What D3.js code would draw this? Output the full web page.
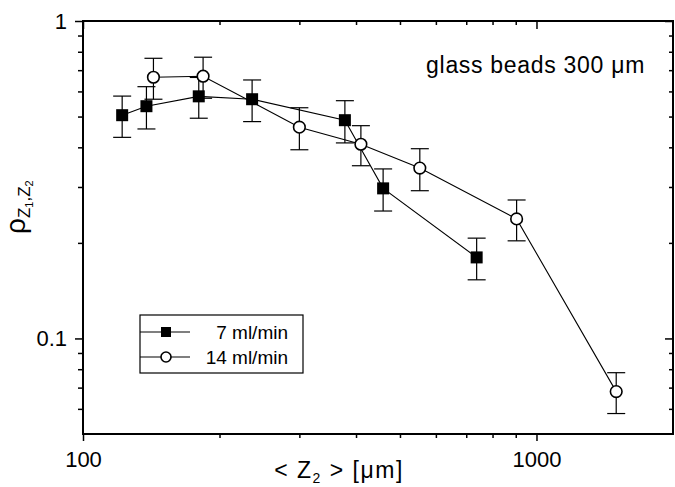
<!DOCTYPE html>
<html>
<head>
<meta charset="utf-8">
<script src="https://cdn.jsdelivr.net/npm/d3@7"></script>
<style>
  body { margin: 0; background: #fff; }
  svg { font-family: "Liberation Sans", Arial, sans-serif; }
  .axis text { font-size: 22px; fill: #000; }
  .axis line { stroke: #000; stroke-width: 1.5; }
</style>
</head>
<body>
<script>
// data
var seriesNames = ["7 ml/min", "14 ml/min"];

var z7 = [122, 138, 180, 236, 378, 459, 738];
var rho7 = [0.505, 0.539, 0.579, 0.567, 0.487, 0.297, 0.180];
var err7 = [0.075, 0.082, 0.085, 0.085, 0.074, 0.045, 0.027];

var z14 = [143, 184, 300, 410, 553, 904, 1499];
var rho14 = [0.665, 0.670, 0.463, 0.409, 0.344, 0.238, 0.068];
var err14 = [0.098, 0.099, 0.070, 0.059, 0.052, 0.035, 0.010];

var xMajor = [100, 1000];
var xMinor = [200, 300, 400, 500, 600, 700, 800, 900];
var yMajor = [0.1, 1];
var yMinor = [0.06, 0.07, 0.08, 0.09, 0.2, 0.3, 0.4, 0.5, 0.6, 0.7, 0.8, 0.9];

var W = 675, H = 487;
var padL = 83, padR = 673, padT = 21, padB = 434;

var svg = d3.select("body").append("svg")
    .attr("width", W)
    .attr("height", H);

var x = d3.scaleLog().domain([100, 2000]).range([padL, padR]);
var y = d3.scaleLog().domain([0.05, 1]).range([padB, padT]);

// axes: major with labels, minor without, mirrored on top / right
function addAxis(axis, tr) {
  var g = svg.append("g").attr("class", "axis").attr("transform", tr).call(axis);
  g.select(".domain").remove();
  return g;
}
addAxis(d3.axisBottom(x).tickValues(xMajor).tickSize(7).tickPadding(10).tickFormat(d3.format("d")), "translate(0," + padB + ")");
addAxis(d3.axisBottom(x).tickValues(xMinor).tickSize(4).tickFormat(""), "translate(0," + padB + ")");
addAxis(d3.axisBottom(x).tickValues(xMajor).tickSize(8).tickFormat(""), "translate(0," + padT + ")");
addAxis(d3.axisBottom(x).tickValues(xMinor).tickSize(4).tickFormat(""), "translate(0," + padT + ")");

addAxis(d3.axisLeft(y).tickValues(yMajor).tickSize(8).tickPadding(8).tickFormat(d3.format("")), "translate(" + padL + ",0)");
addAxis(d3.axisLeft(y).tickValues(yMinor).tickSize(5).tickFormat(""), "translate(" + padL + ",0)");
addAxis(d3.axisLeft(y).tickValues(yMajor).tickSize(8).tickFormat(""), "translate(" + padR + ",0)");
addAxis(d3.axisLeft(y).tickValues(yMinor).tickSize(4).tickFormat(""), "translate(" + padR + ",0)");

// frame
svg.append("rect")
    .attr("x", padL).attr("y", padT)
    .attr("width", padR - padL).attr("height", padB - padT)
    .attr("fill", "none").attr("stroke", "#000").attr("stroke-width", 2);

var pts7 = z7.map(function(d, i) { return {z: d, r: rho7[i], e: err7[i]}; });
var pts14 = z14.map(function(d, i) { return {z: d, r: rho14[i], e: err14[i]}; });

var line = d3.line()
    .x(function(d) { return x(d.z); })
    .y(function(d) { return y(d.r); });

[pts7, pts14].forEach(function(pts) {
  svg.append("path").datum(pts)
      .attr("d", line)
      .attr("fill", "none").attr("stroke", "#000").attr("stroke-width", 1.1);
});

// error bars
[pts7, pts14].forEach(function(pts) {
  var eb = svg.append("g").attr("stroke", "#000").attr("stroke-width", 1.2);
  pts.forEach(function(d) {
    var cx = x(d.z), y0 = y(d.r - d.e), y1 = y(d.r + d.e);
    eb.append("line").attr("x1", cx).attr("x2", cx).attr("y1", y0).attr("y2", y1);
    eb.append("line").attr("x1", cx - 9).attr("x2", cx + 9).attr("y1", y0).attr("y2", y0);
    eb.append("line").attr("x1", cx - 9).attr("x2", cx + 9).attr("y1", y1).attr("y2", y1);
  });
});

// markers
svg.append("g").selectAll("rect").data(pts7).enter().append("rect")
    .attr("x", function(d) { return x(d.z) - 6; })
    .attr("y", function(d) { return y(d.r) - 6; })
    .attr("width", 12).attr("height", 12)
    .attr("fill", "#000");

svg.append("g").selectAll("circle").data(pts14).enter().append("circle")
    .attr("cx", function(d) { return x(d.z); })
    .attr("cy", function(d) { return y(d.r); })
    .attr("r", 5.8)
    .attr("fill", "#fff").attr("stroke", "#000").attr("stroke-width", 1.6);

// legend
var lg = svg.append("g");
lg.append("rect").attr("x", 140).attr("y", 315).attr("width", 163).attr("height", 58)
    .attr("fill", "#fff").attr("stroke", "#000").attr("stroke-width", 1.2);
var rows = [332, 357];
rows.forEach(function(ry, i) {
  lg.append("line").attr("x1", 140).attr("x2", 190).attr("y1", ry).attr("y2", ry)
      .attr("stroke", "#000").attr("stroke-width", 1.1);
  if (i == 0) {
    lg.append("rect").attr("x", 161).attr("y", ry - 5).attr("width", 10).attr("height", 10).attr("fill", "#000");
  } else {
    lg.append("circle").attr("cx", 166).attr("cy", ry).attr("r", 5)
        .attr("fill", "#fff").attr("stroke", "#000").attr("stroke-width", 1.6);
  }
  lg.append("text").attr("x", 288).attr("y", ry + 7)
      .attr("text-anchor", "end").attr("font-size", 19)
      .text(seriesNames[i]);
});

// annotation
svg.append("text")
    .attr("x", 645).attr("y", 73)
    .attr("text-anchor", "end")
    .attr("font-size", 23)
    .attr("letter-spacing", 0.7)
    .text("glass beads 300 \u03bcm");

// x title
var xt = svg.append("text")
    .attr("x", 339).attr("y", 478)
    .attr("text-anchor", "middle")
    .attr("font-size", 23)
    .attr("letter-spacing", 1.5);
xt.append("tspan").text("< Z");
xt.append("tspan").attr("font-size", 14).attr("dy", 5).text("2");
xt.append("tspan").attr("dy", -5).text(" > [\u03bcm]");

// y title
var yt = svg.append("text")
    .attr("transform", "translate(25,234) rotate(-90)")
    .attr("font-size", 28);
yt.append("tspan").text("\u03c1");
yt.append("tspan").attr("font-size", 17).attr("dy", 5).text("Z");
yt.append("tspan").attr("font-size", 11).attr("dy", 3).text("1");
yt.append("tspan").attr("font-size", 17).attr("dy", -3).text(",Z");
yt.append("tspan").attr("font-size", 11).attr("dy", 3).text("2");
</script>
</body>
</html>
